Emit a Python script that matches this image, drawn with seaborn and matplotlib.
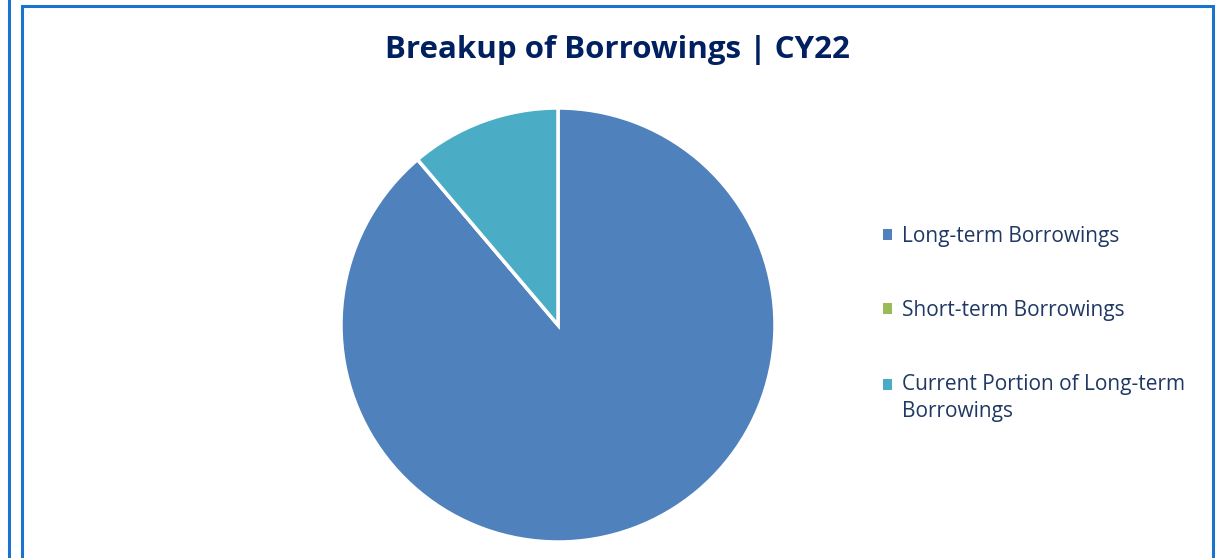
import matplotlib
matplotlib.use("Agg")
import matplotlib.pyplot as plt
from matplotlib.lines import Line2D
from matplotlib.patches import Patch
import seaborn as sns

# data
labels = ["Long-term Borrowings", "Short-term Borrowings",
          "Current Portion of Long-term\nBorrowings"]
values = [88.8, 0.0, 11.2]
title = "Breakup of Borrowings | CY22"

sns.set_theme(style="white")
plt.rcParams["font.family"] = ["Open Sans", "DejaVu Sans"]

colors = sns.color_palette(["#4F81BD", "#9BBB59", "#4BACC6"])
navy = "#1F3864"
frame_blue = "#1A73CC"

W, H = 1223, 558
fig = plt.figure(figsize=(W / 100, H / 100), dpi=100)
fig.patch.set_facecolor("white")

# pie axes, centre (558, 325) px, radius 217 px
cx, cy, r = 558, 325, 217
ax = fig.add_axes([(cx - r) / W, (H - cy - r) / H, 2 * r / W, 2 * r / H])
ax.pie(values, colors=colors, startangle=90, counterclock=False,
       radius=1, wedgeprops=dict(edgecolor="white", linewidth=2.5))
ax.set_xlim(-1, 1)
ax.set_ylim(-1, 1)
ax.set_aspect("equal")
ax.axis("off")

fig.text(617 / W, 1 - 50 / H, title, ha="center", va="center",
         fontsize=22.5, fontweight="bold", color="#002060")

handles = [Patch(facecolor=c, edgecolor="none") for c in colors]
leg = fig.legend(handles, labels, loc="upper left",
                 bbox_to_anchor=(864 / W, 1 - 207 / H), frameon=False,
                 fontsize=15, labelcolor=navy, handlelength=0.42,
                 handleheight=0.42, handletextpad=0.5, labelspacing=2.55)
for t in leg.get_texts():
    t.set_linespacing(1.35)

# excel puts the marker of a wrapped entry on its first line
h3 = leg.legend_handles[2]
h3.set_y(h3.get_y() + 10)

# panel borders
fig.add_artist(Line2D([9 / W, 9 / W], [0, 1], transform=fig.transFigure,
                      color=frame_blue, lw=2.2))
fig.add_artist(Line2D([22 / W, 22 / W, 1213 / W, 1213 / W],
                      [0, 1 - 6 / H, 1 - 6 / H, 0], transform=fig.transFigure,
                      color=frame_blue, lw=2.2, solid_joinstyle="miter"))

fig.savefig("out.png", dpi=100, facecolor="white")
